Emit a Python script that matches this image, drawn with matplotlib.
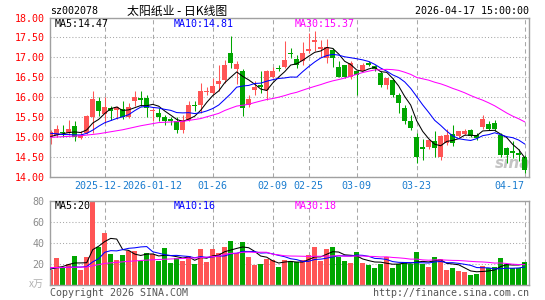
import matplotlib
matplotlib.use("Agg")
import matplotlib.pyplot as plt
import numpy as np
import pandas as pd

# daily bars, 2025-12-16 .. 2026-04-17
dates = [
    "2025-12-16", "2025-12-17", "2025-12-18", "2025-12-19",
    "2025-12-22", "2025-12-23", "2025-12-24", "2025-12-25", "2025-12-26",
    "2025-12-29", "2025-12-30", "2025-12-31",
    "2026-01-05", "2026-01-06", "2026-01-07", "2026-01-08", "2026-01-09",
    "2026-01-12", "2026-01-13", "2026-01-14", "2026-01-15", "2026-01-16",
    "2026-01-19", "2026-01-20", "2026-01-21", "2026-01-22", "2026-01-23",
    "2026-01-26", "2026-01-27", "2026-01-28", "2026-01-29", "2026-01-30",
    "2026-02-02", "2026-02-03", "2026-02-04", "2026-02-05", "2026-02-06",
    "2026-02-09", "2026-02-10", "2026-02-11", "2026-02-12", "2026-02-13",
    "2026-02-24", "2026-02-25", "2026-02-26", "2026-02-27",
    "2026-03-02", "2026-03-03", "2026-03-04", "2026-03-05", "2026-03-06",
    "2026-03-09", "2026-03-10", "2026-03-11", "2026-03-12", "2026-03-13",
    "2026-03-16", "2026-03-17", "2026-03-18", "2026-03-19", "2026-03-20",
    "2026-03-23", "2026-03-24", "2026-03-25", "2026-03-26", "2026-03-27",
    "2026-03-30", "2026-03-31", "2026-04-01", "2026-04-02", "2026-04-03",
    "2026-04-07", "2026-04-08", "2026-04-09", "2026-04-10",
    "2026-04-13", "2026-04-14", "2026-04-15", "2026-04-16", "2026-04-17",
]
opens = [
    15.00, 15.06, 15.13, 15.10, 15.29, 14.98, 15.12, 15.52, 15.92, 15.59,
    15.73, 15.69, 15.70, 15.52, 15.90, 15.98, 15.98, 15.65, 15.60, 15.50,
    15.46, 15.42, 15.19, 15.44, 15.81, 15.81, 16.14, 16.12, 16.34, 16.44,
    17.10, 16.71, 16.67, 15.81, 16.19, 16.31, 16.19, 16.52, 16.73, 16.77,
    17.11, 16.95, 16.90, 17.16, 17.38, 17.21, 16.98, 17.19, 16.77, 16.80,
    16.50, 16.65, 16.65, 16.85, 16.78, 16.62, 16.30, 16.44, 16.06, 15.73,
    15.42, 15.02, 14.75, 14.75, 14.90, 14.52, 14.85, 15.09, 15.04, 15.09,
    15.19, 15.05, 15.25, 15.34, 15.35, 15.05, 14.73, 14.66, 14.60, 14.50,
]
highs = [
    15.19, 15.31, 15.31, 15.44, 15.40, 15.15, 15.56, 16.15, 16.02, 16.00,
    15.79, 15.79, 15.90, 15.85, 16.15, 16.15, 16.06, 15.73, 15.73, 15.56,
    15.52, 15.52, 15.56, 15.90, 15.90, 16.37, 16.27, 16.48, 16.81, 16.94,
    17.54, 16.92, 16.70, 16.06, 16.40, 16.65, 16.69, 16.77, 16.81, 17.40,
    17.23, 17.06, 17.38, 17.62, 17.66, 17.44, 17.46, 17.23, 16.90, 16.82,
    16.90, 16.67, 16.85, 16.90, 16.81, 16.65, 16.48, 16.48, 16.10, 15.81,
    15.56, 15.12, 14.96, 14.94, 15.15, 15.05, 15.20, 15.30, 15.17, 15.20,
    15.21, 15.10, 15.55, 15.40, 15.44, 15.10, 14.77, 14.92, 14.70, 14.55,
]
lows = [
    14.84, 15.02, 15.02, 15.06, 14.92, 14.95, 15.09, 15.10, 15.54, 15.35,
    15.44, 15.45, 15.45, 15.48, 15.79, 15.79, 15.50, 15.42, 15.40, 15.31,
    15.31, 15.12, 15.10, 15.40, 15.65, 15.60, 16.06, 16.06, 16.15, 16.35,
    16.73, 16.34, 15.54, 15.75, 16.06, 16.12, 15.94, 16.48, 16.65, 16.73,
    16.98, 16.73, 16.80, 17.12, 17.15, 17.02, 16.86, 16.77, 16.50, 16.48,
    16.46, 16.06, 16.65, 16.78, 16.67, 16.25, 16.20, 16.00, 15.62, 15.33,
    15.19, 14.37, 14.44, 14.70, 14.50, 14.44, 14.81, 14.78, 15.02, 15.06,
    15.00, 14.94, 15.20, 15.18, 15.17, 14.52, 14.35, 14.48, 14.40, 14.12,
]
closes = [
    15.14, 15.21, 15.10, 15.21, 15.02, 15.06, 15.54, 15.96, 15.67, 15.75,
    15.67, 15.75, 15.52, 15.75, 16.02, 15.94, 15.73, 15.69, 15.52, 15.42,
    15.42, 15.19, 15.44, 15.81, 15.79, 16.16, 16.17, 16.29, 16.40, 16.81,
    16.85, 16.84, 15.73, 15.96, 16.27, 16.25, 16.65, 16.67, 16.71, 16.94,
    17.08, 16.81, 17.10, 17.22, 17.43, 17.25, 17.25, 16.98, 16.52, 16.52,
    16.85, 16.56, 16.81, 16.82, 16.72, 16.31, 16.48, 16.05, 15.86, 15.42,
    15.23, 14.52, 14.72, 14.94, 14.73, 15.04, 15.06, 14.85, 15.15, 15.17,
    15.04, 14.98, 15.46, 15.20, 15.20, 14.56, 14.56, 14.60, 14.55, 14.19,
]
# volume, in 10k lots
volumes = [
    14.0, 26.1, 16.6, 19.8, 28.0, 14.3, 27.1, 79.0, 36.6, 50.0,
    29.6, 23.9, 28.7, 32.5, 32.5, 22.9, 30.6, 29.3, 22.9, 35.7,
    21.3, 25.5, 22.9, 28.0, 19.8, 34.4, 22.3, 34.4, 30.9, 36.6,
    42.1, 30.3, 41.4, 27.1, 19.1, 19.8, 24.9, 23.9, 16.6, 23.9,
    22.7, 21.8, 24.0, 28.5, 36.4, 23.1, 34.2, 36.4, 26.8, 23.1,
    20.9, 31.7, 21.2, 19.0, 16.5, 20.1, 26.5, 16.5, 19.8, 21.4,
    19.6, 31.7, 19.6, 17.3, 26.9, 24.5, 14.5, 16.5, 13.5, 12.2,
    9.7, 10.5, 18.0, 16.0, 16.9, 26.0, 19.5, 16.3, 16.3, 21.8,
]

ma5_head = [15.02, 15.06, 15.09, 15.12]
ma10_head = [15.10, 15.09, 15.07, 15.07, 15.06, 15.06, 15.10, 15.18, 15.28]
ma30_head_idx = [0, 5, 8, 12, 15, 18, 22, 25, 28]
ma30_head = [15.00, 15.04, 15.09, 15.19, 15.29, 15.37, 15.40, 15.47, 15.60]
vma5_head = [15.0, 16.5, 17.5, 19.5]
vma10_head = [16.3, 16.3, 16.5, 16.8, 17.0, 17.0, 17.5, 22.0, 25.0]
vma30_head_idx = [0, 6, 9, 13, 17, 21, 25, 28]
vma30_head = [16.5, 17.0, 20.5, 22.5, 24.0, 25.0, 26.0, 27.5]

tick_dates = ["2025-12-29", "2026-01-12", "2026-01-26", "2026-02-09",
              "2026-02-25", "2026-03-09", "2026-03-23", "2026-04-17"]

UP = "#ff5555"
DOWN = "#00a600"
MONO = "DejaVu Sans Mono"
CJK = ["Noto Sans CJK SC", "DejaVu Sans"]
FS = 7.2
W, H = 545, 300


def box(left, top, right, bottom):
    return [left / W, 1 - bottom / H, (right - left) / W, (bottom - top) / H]


def moving(values, n, head_idx, head_vals):
    s = pd.Series(values).rolling(n).mean()
    xs = list(head_idx) + list(range(n - 1, len(values)))
    ys = list(head_vals) + list(s.iloc[n - 1:])
    return xs, ys


def style_axes(ax):
    for sp in ax.spines.values():
        sp.set_color("#a0a0a0")
        sp.set_linewidth(1.0)
    ax.set_xlim(-0.12, 79.72)
    ax.set_xticks(tick_idx)
    ax.grid(axis="x", color="#a8a8a8", linestyle=(0, (4, 3)), linewidth=0.75)
    ax.grid(axis="y", color="#a8a8a8", linestyle=(0, (1, 2)), linewidth=0.75)
    ax.set_axisbelow(True)
    ax.tick_params(length=0)


x = np.arange(len(dates))
o = np.array(opens)
c = np.array(closes)
up = c >= o
cols = [UP if u else DOWN for u in up]
tick_idx = [dates.index(d) for d in tick_dates]
tick_text = [d if i < 2 else d[5:] for i, d in enumerate(tick_dates)]

fig = plt.figure(figsize=(W / 100, H / 100), dpi=100)
ax = fig.add_axes(box(50, 17.5, 529, 177.3))
axv = fig.add_axes(box(50, 201.3, 529, 284.8))

# price panel
style_axes(ax)
ax.set_ylim(14, 18)
ax.set_yticks(np.arange(14, 18.01, 0.5))
ax.set_yticklabels(["%.2f" % v for v in np.arange(14, 18.01, 0.5)],
                   color="#ff0000", family=MONO, fontsize=FS)
ax.set_xticklabels(tick_text, color="#1a7ccf", family=MONO, fontsize=FS)
ax.tick_params(axis="y", pad=4)
ax.tick_params(axis="x", pad=3)
labs = ax.get_xticklabels()
labs[1].set_bbox(dict(facecolor="white", edgecolor="none", pad=0.5))
labs[-1].set_horizontalalignment("right")

ax.text(0.965, 0.085, "sina", transform=ax.transAxes, ha="center", va="center",
        color="#c4c4c4", fontsize=11, fontweight="bold", fontstyle="italic",
        family="DejaVu Sans", zorder=0)

ax.vlines(x, lows, highs, colors=cols, linewidth=0.75, zorder=2)
ax.bar(x, np.maximum(np.abs(c - o), 0.012), bottom=np.minimum(o, c),
       width=0.8, color=cols, linewidth=0, zorder=3)

for n, head_x, head_y, col in [(5, range(4), ma5_head, "#000000"),
                               (10, range(9), ma10_head, "#0000ff"),
                               (30, ma30_head_idx, ma30_head, "#ff00ff")]:
    mx, my = moving(closes, n, head_x, head_y)
    ax.plot(mx, my, color=col, linewidth=0.75, zorder=4)

# volume panel
style_axes(axv)
axv.set_ylim(0, 80)
axv.set_yticks([20, 40, 60, 80])
axv.set_yticklabels(["20", "40", "60", "80"], color="#8c8c8c",
                    family=MONO, fontsize=FS)
axv.tick_params(axis="y", pad=4)
axv.set_xticklabels([])
axv.bar(x, volumes, width=0.8, color=cols, linewidth=0, zorder=2)
for n, head_x, head_y, col in [(5, range(4), vma5_head, "#000000"),
                               (10, range(9), vma10_head, "#0000ff"),
                               (30, vma30_head_idx, vma30_head, "#ff00ff")]:
    mx, my = moving(volumes, n, head_x, head_y)
    axv.plot(mx, my, color=col, linewidth=0.75, zorder=4)


def ftext(px, py, s, **kw):
    kw.setdefault("family", MONO)
    kw.setdefault("fontsize", FS)
    kw.setdefault("va", "center")
    fig.text(px / W, 1 - py / H, s, **kw)


ftext(50, 11, "sz002078")
ftext(177, 11, "太阳纸业 - 日K线图", ha="center", family=CJK, fontsize=8.6)
ftext(529, 11, "2026-04-17 15:00:00", ha="right")

ftext(55, 24, "MA5:14.47", color="#000000")
ftext(174, 24, "MA10:14.81", color="#0000ff")
ftext(295, 24, "MA30:15.37", color="#ff00ff")

ftext(55, 206, "MA5:20", color="#000000")
ftext(174, 206, "MA10:16", color="#0000ff")
ftext(295, 206, "MA30:18", color="#ff00ff")

ftext(44, 284, "x万", ha="right", color="#b0b0b0", family=CJK)
ftext(50, 292.5, "Copyright 2026 SINA.COM", color="#555555")
ftext(529, 292.5, "http://finance.sina.com.cn", ha="right", color="#555555")

fig.savefig("out.png", dpi=100)
